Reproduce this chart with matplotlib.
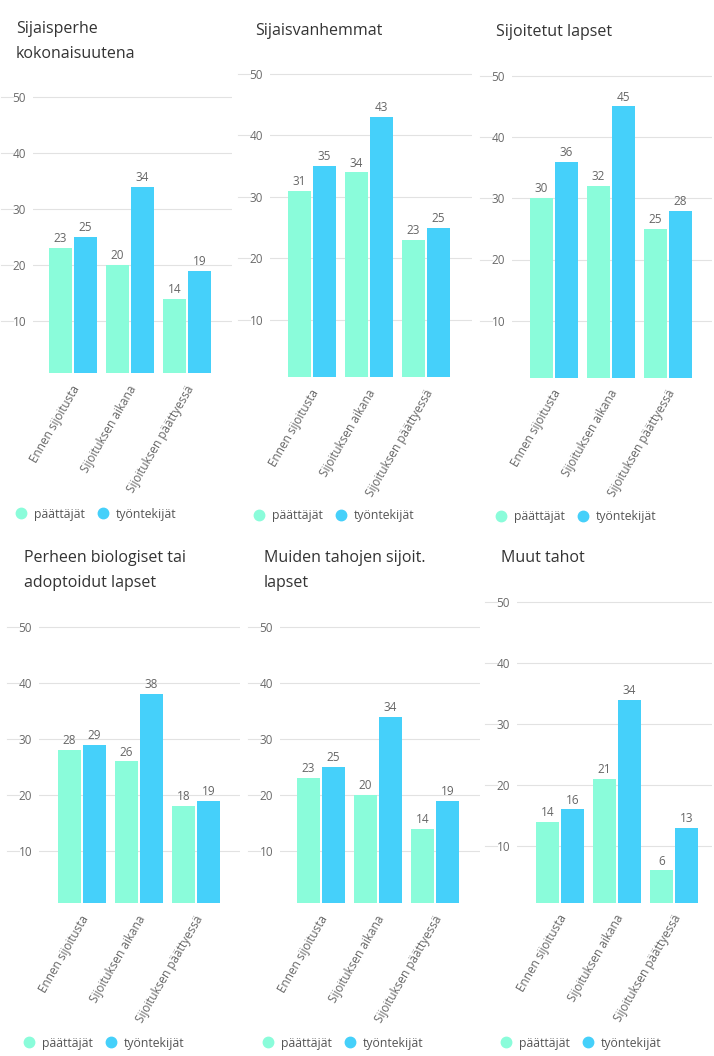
import matplotlib
matplotlib.use("Agg")
import matplotlib.pyplot as plt
import matplotlib.transforms as mtransforms
from matplotlib.lines import Line2D
import numpy as np

plt.rcParams['font.family'] = ['Open Sans', 'DejaVu Sans']

# data
titles = [
    "Sijaisperhe\nkokonaisuutena",
    "Sijaisvanhemmat",
    "Sijoitetut lapset",
    "Perheen biologiset tai\nadoptoidut lapset",
    "Muiden tahojen sijoit.\nlapset",
    "Muut tahot",
]
categories = ["Ennen sijoitusta", "Sijoituksen aikana", "Sijoituksen päättyessä"]
series_names = ["päättäjät", "työntekijät"]
paattajat = [
    [23, 20, 14],
    [31, 34, 23],
    [30, 32, 25],
    [28, 26, 18],
    [23, 20, 14],
    [14, 21, 6],
]
tyontekijat = [
    [25, 34, 19],
    [35, 43, 25],
    [36, 45, 28],
    [29, 38, 19],
    [25, 34, 19],
    [16, 34, 13],
]
yticks = [10, 20, 30, 40, 50]

colors = ["#8afcda", "#45d0fa"]
W, H = 714, 1056

# layout in pixels: left, right, zero line y, px per 10 units, first-group offset,
# title x, title y, legend x, legend y
layout = [
    (33, 232, 377, 56, 40, 16, 29, 21, 514),
    (270, 472, 381.5, 61.5, 42, 255, 31, 259, 516),
    (512, 712, 382, 61.25, 42, 496, 32, 501, 517),
    (39, 240, 907, 56, 43, 24, 558, 29, 1043),
    (280, 480, 907, 56, 41, 264, 558, 268, 1043),
    (517, 712, 907, 61, 43, 501, 558, 506, 1043),
]

fig = plt.figure(figsize=(W / 100, H / 100), dpi=100)

group_px = 57.0
ymin, ymax = 0.7, 51

for i in range(6):
    l, r, y0, step, rel, tx, ty, lx, ly = layout[i]
    bot = y0 - ymin * step / 10
    top = y0 - ymax * step / 10
    ax = fig.add_axes([l / W, 1 - bot / H, (r - l) / W, (bot - top) / H])
    x = np.arange(len(categories))
    x0 = -rel / group_px
    ax.set_xlim(x0, x0 + (r - l) / group_px)
    ax.set_ylim(ymin, ymax)

    b1 = ax.bar(x - 0.22, paattajat[i], width=0.40, color=colors[0], zorder=3)
    b2 = ax.bar(x + 0.22, tyontekijat[i], width=0.40, color=colors[1], zorder=3)
    for bars in (b1, b2):
        ax.bar_label(bars, padding=2, fontsize=8.5, color="#666666")

    for s in ax.spines.values():
        s.set_visible(False)
    ax.set_yticks(yticks)
    ax.set_yticklabels([str(v) for v in yticks])
    ax.tick_params(axis="y", length=0, pad=5, labelsize=8.5, labelcolor="#6a6a6a")
    ax.yaxis.grid(True, color="#e2e2e2", lw=0.8, zorder=0)
    ax.set_axisbelow(True)
    trans = mtransforms.blended_transform_factory(ax.transAxes, ax.transData)
    wpx = r - l
    for v in yticks:
        ax.plot([-32 / wpx, -20 / wpx], [v, v], transform=trans, clip_on=False,
                color="#e2e2e2", lw=0.8)

    ax.set_xticks(x)
    ax.set_xticklabels(categories, rotation=60, ha="right", rotation_mode="anchor",
                       fontsize=8.5, color="#666666")
    ax.tick_params(axis="x", length=0, pad=7)
    off = mtransforms.ScaledTranslation(-2 / 100, 0, fig.dpi_scale_trans)
    for lab in ax.get_xticklabels():
        lab.set_transform(lab.get_transform() + off)

    for k, line in enumerate(titles[i].split("\n")):
        fig.text(tx / W, 1 - (ty + 25 * k) / H, line, fontsize=11.5, color="#333333",
                 va="center", ha="left")

    handles = [Line2D([], [], marker="o", ls="", markersize=7.5, color=c) for c in colors]
    ax.legend(handles, series_names, ncol=2, frameon=False, loc="center left",
              bbox_to_anchor=((lx - 10) / W, 1 - ly / H), bbox_transform=fig.transFigure,
              fontsize=8.8, labelcolor="#555555", handletextpad=0.65, columnspacing=1.15,
              borderaxespad=0, handlelength=0.8)

fig.savefig("out.png", dpi=100, facecolor="white")
